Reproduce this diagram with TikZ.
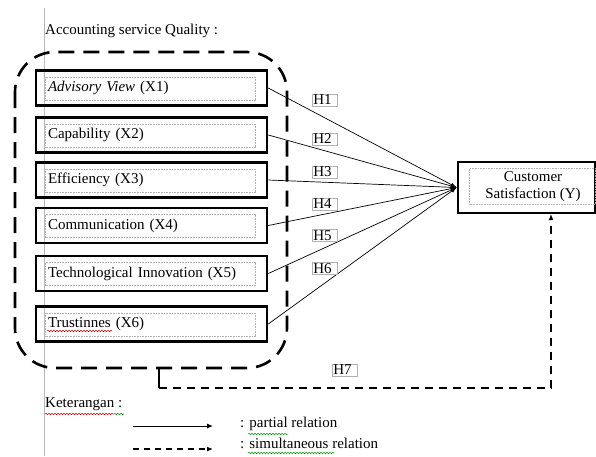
\documentclass[tikz,border=0pt]{standalone}
\usepackage{fontspec}
\setmainfont{Liberation Serif}
\usetikzlibrary{arrows.meta,calc,decorations.pathmorphing}
\begin{document}
\begin{tikzpicture}[x=1pt,y=-1pt,
  every node/.style={font=\fontsize{15}{17}\selectfont},
  varbox/.style={draw,line width=2.6pt,minimum width=231pt,minimum height=35pt,
     inner xsep=12pt,text width=207pt,align=left},
  innerbox/.style={draw=gray!60,densely dotted,line width=0.6pt},
  hlab/.style={draw=gray!60,line width=0.6pt,inner sep=1pt,text width=23pt,align=left,anchor=west},
  partial/.style={line width=0.7pt,-{Latex[length=6pt,width=4pt]}},
  frame/.style={line width=2.6pt,dash pattern=on 16pt off 9pt,rounded corners=40pt},
  simul/.style={line width=2pt,dash pattern=on 8pt off 6pt,-{Latex[length=6pt,width=5pt]}},
  squigred/.style={red!80!black,line width=0.5pt,decorate,decoration={snake,amplitude=0.8pt,segment length=3pt}},
  squiggreen/.style={green!60!black,line width=0.5pt,decorate,decoration={snake,amplitude=0.8pt,segment length=3pt}}]
\useasboundingbox (0,0) rectangle (596,456);
% margin line
\coordinate (m1) at (44,8);
\coordinate (m2) at (44,456);
\draw[gray!55,line width=0.6pt] (m1) -- (m2);

\node[anchor=west,inner sep=0pt] (title) at (45,31) {Accounting service Quality :};

% dashed frame
\draw[frame] (15,52) rectangle (287,368);

% variable boxes
\node[varbox] (x1) at (151.5,88) {\textit{Advisory View} (X1)};
\node[varbox] (x2) at (151.5,135) {Capability (X2)};
\node[varbox] (x3) at (151.5,180) {Efficiency (X3)};
\node[varbox] (x4) at (151.5,225.5) {Communication (X4)};
\node[varbox] (x5) at (151.5,273.5) {Technological Innovation (X5)};
\node[varbox] (x6) at (151.5,324) {Trustinnes (X6)};
\foreach \n in {x1,x2,x3,x4,x5,x6}{
  \draw[innerbox] ($(\n.north west)+(11,8)$) rectangle ($(\n.south east)+(-13,-7)$);
}

% dependent variable
\node[draw,line width=2.6pt,minimum width=137pt,minimum height=51pt] (Y) at (526.5,187.5) {};
\draw[innerbox] ($(Y.north west)+(13,8)$) rectangle ($(Y.south east)+(-1,-10)$);
\node[align=center,inner sep=0pt] (ytext) at (533,187) {Customer\\Satisfaction (Y)};

% partial relations
\foreach \n in {x1,x2,x3,x4,x5,x6}{
  \draw[partial] (\n.east) -- (Y.west);
}

% H labels
\node[hlab] (h1) at (312,100) {H1};
\node[hlab] (h2) at (312,139) {H2};
\node[hlab] (h3) at (312,172) {H3};
\node[hlab] (h4) at (312,204) {H4};
\node[hlab] (h5) at (312,235.5) {H5};
\node[hlab] (h6) at (312,268.5) {H6};
\node[hlab] (h7) at (332,370) {H7};

% simultaneous relation
\coordinate (fb) at (159,367);
\coordinate (fc) at (159,388);
\coordinate (yb) at (551,214);
\draw[line width=2.6pt] (fb) -- (fc);
\draw[simul] (fc) -| (yb);

% legend
\node[anchor=west,inner sep=0pt] (ket) at (45,404) {Keterangan :};
\coordinate (la1) at (133,426);
\coordinate (la2) at (213,426);
\coordinate (lb1) at (133,449);
\coordinate (lb2) at (213,449);
\draw[line width=1pt,-{Latex[length=6pt,width=5pt]}] (la1) -- (la2);
\draw[line width=1.5pt,dash pattern=on 6pt off 5pt,-{Latex[length=6pt,width=5pt]}] (lb1) -- (lb2);
\node[anchor=west,inner sep=0pt] (lp) at (240,424) {: partial relation};
\node[anchor=west,inner sep=0pt] (ls) at (240,443) {: simultaneous relation};

% spell-check marks
\coordinate (s1a) at (47,331); \coordinate (s1b) at (112,331);
\draw[squigred] (s1a) -- (s1b);
\coordinate (s2a) at (45,414); \coordinate (s2b) at (114,414);
\draw[squigred] (s2a) -- (s2b);
\coordinate (s3a) at (114,414); \coordinate (s3b) at (124,414);
\draw[squiggreen] (s3a) -- (s3b);
\coordinate (s4a) at (248,434); \coordinate (s4b) at (288,434);
\draw[squiggreen] (s4a) -- (s4b);
\coordinate (s5a) at (248,453); \coordinate (s5b) at (334,453);
\draw[squiggreen] (s5a) -- (s5b);
\end{tikzpicture}
\end{document}
